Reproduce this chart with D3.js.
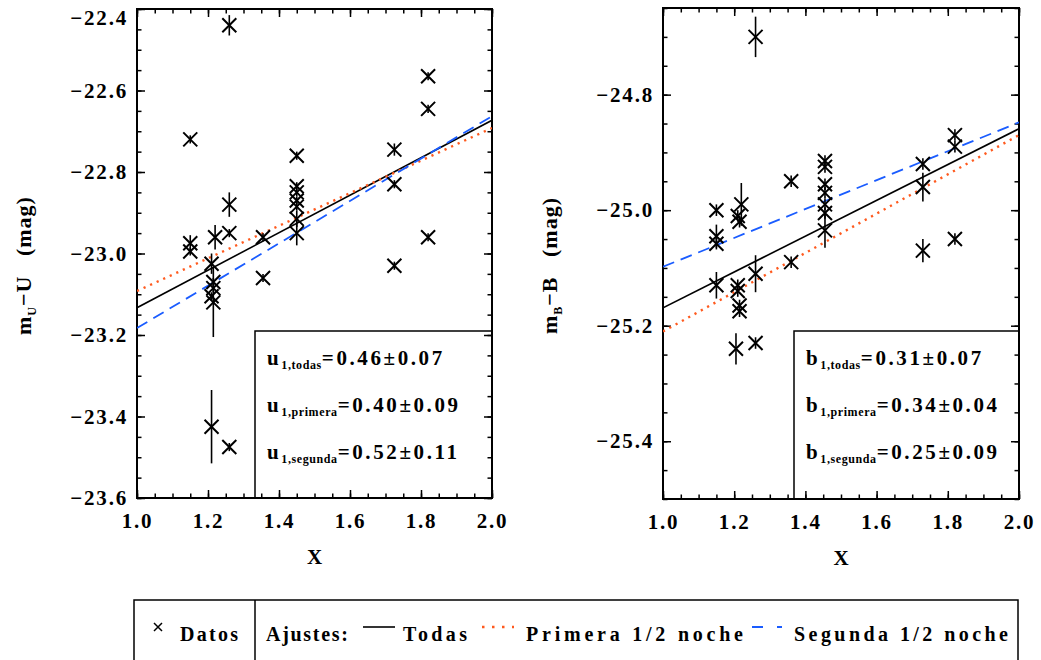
<!DOCTYPE html>
<head>
    <meta charset="utf-8">
    <script src="https://d3js.org/d3.v7.min.js"></script>
    <style>
        body { margin:0; background:#fff; }
        svg text { font-family: "Liberation Serif", "Times New Roman", serif; font-weight: bold; fill: #000; }
    </style>
</head>
<body>
    <svg id="svgelem" width="1041" height="660"></svg>

    <script>
        // Data
        var uAirmass = [1.15, 1.26, 1.82, 1.82, 1.725, 1.725, 1.45, 1.45, 1.45, 1.45, 1.45, 1.45, 1.45,
                        1.26, 1.26, 1.22, 1.355, 1.15, 1.15, 1.21, 1.355, 1.725, 1.82,
                        1.215, 1.215, 1.21, 1.215, 1.21, 1.26];
        var uMag = [-22.72, -22.44, -22.565, -22.645, -22.745, -22.83, -22.76, -22.835, -22.85, -22.87, -22.885, -22.915, -22.95,
                    -22.88, -22.95, -22.96, -22.96, -22.975, -22.995, -23.025, -23.06, -23.03, -22.96,
                    -23.07, -23.085, -23.105, -23.12, -23.425, -23.475];
        var uErr = [0.01, 0.025, 0.01, 0.01, 0.015, 0.01, 0.01, 0.01, 0.01, 0.01, 0.01, 0.02, 0.03,
                    0.03, 0.01, 0.03, 0.01, 0.02, 0.01, 0.025, 0.01, 0.01, 0.01,
                    0.01, 0.01, 0.01, 0.085, 0.09, 0.01];

        var bAirmass = [1.26, 1.82, 1.82, 1.73, 1.73, 1.36, 1.455, 1.455, 1.455, 1.455, 1.455, 1.455, 1.455,
                        1.15, 1.15, 1.15, 1.22, 1.21, 1.215, 1.73, 1.82, 1.36, 1.26, 1.15,
                        1.21, 1.21, 1.215, 1.215, 1.205, 1.26];
        var bMag = [-24.70, -24.87, -24.89, -24.92, -24.96, -24.95, -24.915, -24.925, -24.955, -24.97, -24.99, -25.005, -25.035,
                    -25.0, -25.045, -25.058, -24.99, -25.01, -25.02, -25.07, -25.05, -25.09, -25.11, -25.13,
                    -25.13, -25.14, -25.165, -25.175, -25.24, -25.23];
        var bErr = [0.035, 0.01, 0.01, 0.01, 0.025, 0.01, 0.01, 0.01, 0.01, 0.01, 0.01, 0.01, 0.03,
                    0.01, 0.02, 0.01, 0.037, 0.01, 0.01, 0.02, 0.01, 0.01, 0.032, 0.023,
                    0.01, 0.01, 0.01, 0.01, 0.027, 0.01];

        // Fits: todas, primera, segunda
        var fitNames = ["todas", "primera", "segunda"];
        var uCoef = [0.46, 0.40, 0.52];
        var uCoefErr = [0.07, 0.09, 0.11];
        var uAtOne = [-23.133, -23.092, -23.183];
        var bCoef = [0.31, 0.34, 0.25];
        var bCoefErr = [0.07, 0.04, 0.09];
        var bAtOne = [-25.169, -25.21, -25.098];

        var xTicks = [1.0, 1.2, 1.4, 1.6, 1.8, 2.0];
        var uTicks = [-23.6, -23.4, -23.2, -23.0, -22.8, -22.6, -22.4];
        var bTicks = [-25.4, -25.2, -25.0, -24.8];

        var legendLabels = ["Todas", "Primera 1/2 noche", "Segunda 1/2 noche"];

        var fitStyles = [
            {color: "#000000", dash: null, width: 1.6},
            {color: "#ff5a1e", dash: "2.2,5", width: 2.4},
            {color: "#1a5cff", dash: "12,7", width: 1.8}
        ];

        var svg = d3.select("#svgelem");
        var fmt = d3.format(".1f");

        function drawPanel(p) {
            var x = d3.scaleLinear().domain([1.0, 2.0]).range([p.left, p.right]);
            var y = d3.scaleLinear().domain(p.yDomain).range([p.bottom, p.top]);
            var g = svg.append("g");

            var minorX = d3.range(0, 21).map(function(i) { return 1 + i * 0.05; });
            var lo = Math.ceil(p.yDomain[0] / 0.05 - 1e-6), hi = Math.floor(p.yDomain[1] / 0.05 + 1e-6);
            var minorY = d3.range(lo, hi + 1).map(function(i) { return +(i * 0.05).toFixed(2); });

            // minor ticks (all four sides, inward)
            g.append("g").attr("transform", "translate(0," + p.bottom + ")")
                .call(d3.axisBottom(x).tickValues(minorX).tickSize(-4.5).tickFormat(""));
            g.append("g").attr("transform", "translate(0," + p.top + ")")
                .call(d3.axisTop(x).tickValues(minorX).tickSize(-4.5).tickFormat(""));
            g.append("g").attr("transform", "translate(" + p.left + ",0)")
                .call(d3.axisLeft(y).tickValues(minorY).tickSize(-4.5).tickFormat(""));
            g.append("g").attr("transform", "translate(" + p.right + ",0)")
                .call(d3.axisRight(y).tickValues(minorY).tickSize(-4.5).tickFormat(""));

            // major ticks
            var xb = g.append("g").attr("transform", "translate(0," + p.bottom + ")")
                .call(d3.axisBottom(x).tickValues(xTicks).tickSize(-8).tickPadding(26).tickFormat(fmt));
            g.append("g").attr("transform", "translate(0," + p.top + ")")
                .call(d3.axisTop(x).tickValues(xTicks).tickSize(-8).tickFormat(""));
            var yl = g.append("g").attr("transform", "translate(" + p.left + ",0)")
                .call(d3.axisLeft(y).tickValues(p.yTicks).tickSize(-8).tickPadding(9).tickFormat(fmt));
            g.append("g").attr("transform", "translate(" + p.right + ",0)")
                .call(d3.axisRight(y).tickValues(p.yTicks).tickSize(-8).tickFormat(""));

            g.selectAll(".domain").remove();
            g.selectAll(".tick line").attr("stroke", "#000").attr("stroke-width", 1.5);
            g.selectAll(".tick text").attr("fill", "#000")
                .style("font-size", "21px").style("letter-spacing", "1.8px");
            xb.selectAll(".tick text").attr("dy", "0.2em");
            // keep the top label inside the frame, as in the original
            yl.selectAll(".tick text").attr("y", function(d) {
                var py = y(d);
                return (py - p.top < 9) ? (p.top + 9 - py) : 0;
            });

            // frame
            g.append("rect").attr("x", p.left).attr("y", p.top)
                .attr("width", p.right - p.left).attr("height", p.bottom - p.top)
                .attr("fill", "none").attr("stroke", "#000").attr("stroke-width", 2);

            // fit lines
            var clip = "clip-" + p.id;
            svg.append("clipPath").attr("id", clip).append("rect")
                .attr("x", p.left).attr("y", p.top).attr("width", p.right - p.left).attr("height", p.bottom - p.top);
            var lines = g.append("g").attr("clip-path", "url(#" + clip + ")");
            fitNames.forEach(function(n, i) {
                lines.append("line")
                    .attr("x1", x(1.0)).attr("y1", y(p.atOne[i]))
                    .attr("x2", x(2.0)).attr("y2", y(p.atOne[i] + p.coef[i]))
                    .attr("stroke", fitStyles[i].color)
                    .attr("stroke-width", fitStyles[i].width)
                    .attr("stroke-dasharray", fitStyles[i].dash);
            });

            // data points: cross + vertical error bar
            var pts = g.append("g").selectAll("g")
                .data(p.xs.map(function(v, i) { return {x: v, y: p.ys[i], e: p.es[i]}; }))
                .enter().append("g")
                .attr("transform", function(d) { return "translate(" + x(d.x) + "," + y(d.y) + ")"; });
            var s = 7;
            pts.append("path")
                .attr("d", "M" + (-s) + "," + (-s) + "L" + s + "," + s + "M" + (-s) + "," + s + "L" + s + "," + (-s))
                .attr("stroke", "#000").attr("stroke-width", 2).attr("fill", "none");
            pts.append("line")
                .attr("x1", 0).attr("x2", 0)
                .attr("y1", function(d) { return y(d.y + d.e) - y(d.y); })
                .attr("y2", function(d) { return y(d.y - d.e) - y(d.y); })
                .attr("stroke", "#000").attr("stroke-width", 1.6);

            // coefficient box
            var bx = p.boxLeft, by = p.boxTop;
            g.append("rect").attr("x", bx).attr("y", by)
                .attr("width", p.right - bx).attr("height", p.bottom - by)
                .attr("fill", "none").attr("stroke", "#000").attr("stroke-width", 1.5);
            fitNames.forEach(function(n, i) {
                var t = g.append("text").attr("x", bx + 12).attr("y", by + 34 + i * 47)
                    .style("font-size", "21px").style("letter-spacing", "2.6px");
                t.append("tspan").text(p.sym);
                t.append("tspan").attr("dy", 4).style("font-size", "12px").style("letter-spacing", "0.6px").text("1," + n);
                t.append("tspan").attr("dy", -4).text("=" + p.coef[i].toFixed(2) + "\u00b1" + p.coefErr[i].toFixed(2));
            });

            // axis titles
            g.append("text").attr("x", (p.left + p.right) / 2).attr("y", p.bottom + 66)
                .attr("text-anchor", "middle").style("font-size", "21px").text("X");
            var yt = g.append("text")
                .attr("transform", "translate(" + (p.left - 106) + "," + ((p.top + p.bottom) / 2 + 12) + ") rotate(-90)")
                .attr("text-anchor", "middle").style("font-size", "22px").style("letter-spacing", "1px");
            yt.append("tspan").text("m");
            yt.append("tspan").attr("dy", 5).style("font-size", "12px").text(p.band);
            yt.append("tspan").attr("dy", -5).text("\u2212" + p.band + "\u00a0\u00a0\u00a0(mag)");
        }

        drawPanel({id: "u", left: 137, right: 492, top: 9, bottom: 498,
                   yDomain: [-23.6, -22.4], yTicks: uTicks,
                   xs: uAirmass, ys: uMag, es: uErr,
                   coef: uCoef, coefErr: uCoefErr, atOne: uAtOne,
                   boxLeft: 255, boxTop: 331, sym: "u", band: "U"});
        drawPanel({id: "b", left: 663, right: 1019, top: 8, bottom: 499,
                   yDomain: [-25.5, -24.65], yTicks: bTicks,
                   xs: bAirmass, ys: bMag, es: bErr,
                   coef: bCoef, coefErr: bCoefErr, atOne: bAtOne,
                   boxLeft: 794, boxTop: 331, sym: "b", band: "B"});

        // legend
        var lg = svg.append("g");
        lg.append("rect").attr("x", 134).attr("y", 600).attr("width", 884).attr("height", 70)
            .attr("fill", "none").attr("stroke", "#000").attr("stroke-width", 1.5);
        lg.append("line").attr("x1", 255).attr("x2", 255).attr("y1", 600).attr("y2", 670)
            .attr("stroke", "#000").attr("stroke-width", 1.5);
        lg.append("path").attr("d", "M154,623L162,631M154,631L162,623")
            .attr("stroke", "#000").attr("stroke-width", 1.5);
        var legendFont = "20px";
        lg.append("text").attr("x", 180).attr("y", 641).style("font-size", legendFont)
            .attr("textLength", 58).attr("lengthAdjust", "spacing").text("Datos");
        lg.append("text").attr("x", 266).attr("y", 641).style("font-size", legendFont)
            .attr("textLength", 82).attr("lengthAdjust", "spacing").text("Ajustes:");
        var keyX = [363, 482, 752];
        var keyW = [32, 32, 30];
        var textX = [403, 526, 794];
        var textW = [64, 217, 214];
        var legendDash = [null, "2.5,7.5", "11,14,5,30"];
        legendLabels.forEach(function(l, i) {
            lg.append("line").attr("x1", keyX[i]).attr("x2", keyX[i] + keyW[i]).attr("y1", 627).attr("y2", 627)
                .attr("stroke", fitStyles[i].color).attr("stroke-width", fitStyles[i].width)
                .attr("stroke-dasharray", legendDash[i]);
            lg.append("text").attr("x", textX[i]).attr("y", 641).style("font-size", legendFont)
                .attr("textLength", textW[i]).attr("lengthAdjust", "spacing").text(l);
        });
    </script>
</body>
